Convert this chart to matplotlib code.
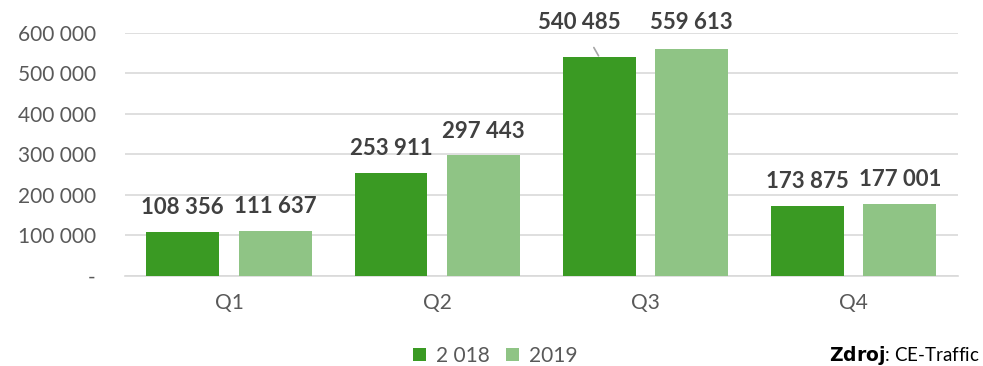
import matplotlib
matplotlib.use("Agg")
import matplotlib.pyplot as plt
import numpy as np

categories = ["Q1", "Q2", "Q3", "Q4"]
series_2018 = [108356, 253911, 540485, 173875]
series_2019 = [111637, 297443, 559613, 177001]
legend_labels = ["2 018", "2019"]
y_ticks = [0, 100000, 200000, 300000, 400000, 500000, 600000]

dark_green = "#3A9A23"
light_green = "#8FC485"
grid_col = "#D9D9D9"
text_col = "#595959"
label_col = "#404040"

plt.rcParams["font.family"] = ["Lato", "DejaVu Sans"]

def fmt(v):
    return f"{v:,}".replace(",", " ")

fig = plt.figure(figsize=(9.83, 3.66), dpi=100)
ax = fig.add_axes([0.127, 0.246, 0.8474, 0.664])

x = np.arange(len(categories))
w = 0.35
off = 0.222
b1 = ax.bar(x - off, series_2018, w, color=dark_green, label=legend_labels[0], zorder=3)
b2 = ax.bar(x + off, series_2019, w, color=light_green, label=legend_labels[1], zorder=3)

ax.set_xlim(-0.5, 3.5)
ax.set_ylim(0, 600000)
ax.set_yticks(y_ticks)
ax.set_yticklabels(["-"] + [fmt(v) for v in y_ticks[1:]])
ax.set_xticks(x)
ax.set_xticklabels(categories)
ax.tick_params(axis="both", length=0, labelsize=15, colors=text_col)
ax.tick_params(axis="y", pad=21)
ax.tick_params(axis="x", pad=12)
ax.yaxis.grid(True, color=grid_col, linewidth=1.2, zorder=0)
for s in ["top", "right", "left"]:
    ax.spines[s].set_visible(False)
ax.spines["bottom"].set_color(grid_col)
ax.spines["bottom"].set_linewidth(1.2)

lab_kw = dict(ha="center", va="center", fontsize=16, fontweight="bold",
              color=label_col)

for i, (v1, v2) in enumerate(zip(series_2018, series_2019)):
    if i == 2:
        # both labels sit above the plot; the left one gets a leader line
        top_y = max(v1, v2) + 67000
        ax.annotate(fmt(v1), xy=(i - off, v1), xytext=(i - off - 0.095, top_y),
                    annotation_clip=False,
                    arrowprops=dict(arrowstyle="-", color="#A6A6A6", lw=1.2,
                                    shrinkA=10, shrinkB=1), **lab_kw)
        ax.text(i + off, top_y, fmt(v2), clip_on=False, **lab_kw)
    else:
        ax.text(i - off, v1 + 60000, fmt(v1), clip_on=False, **lab_kw)
        ax.text(i + off, v2 + 60000, fmt(v2), clip_on=False, **lab_kw)

leg = fig.legend(handles=[b1, b2], labels=legend_labels, loc="center",
                 bbox_to_anchor=(0.504, 0.028), ncol=2, frameon=False,
                 fontsize=15, handlelength=0.6, handleheight=0.6,
                 handletextpad=0.5, columnspacing=0.8)
for t in leg.get_texts():
    t.set_color(text_col)

fig.text(0.997, 0.028, r"$\bf{Zdroj}$: CE-Traffic", ha="right", va="center",
         fontsize=13.5, color="#000000")

fig.savefig("out.png", dpi=100)
